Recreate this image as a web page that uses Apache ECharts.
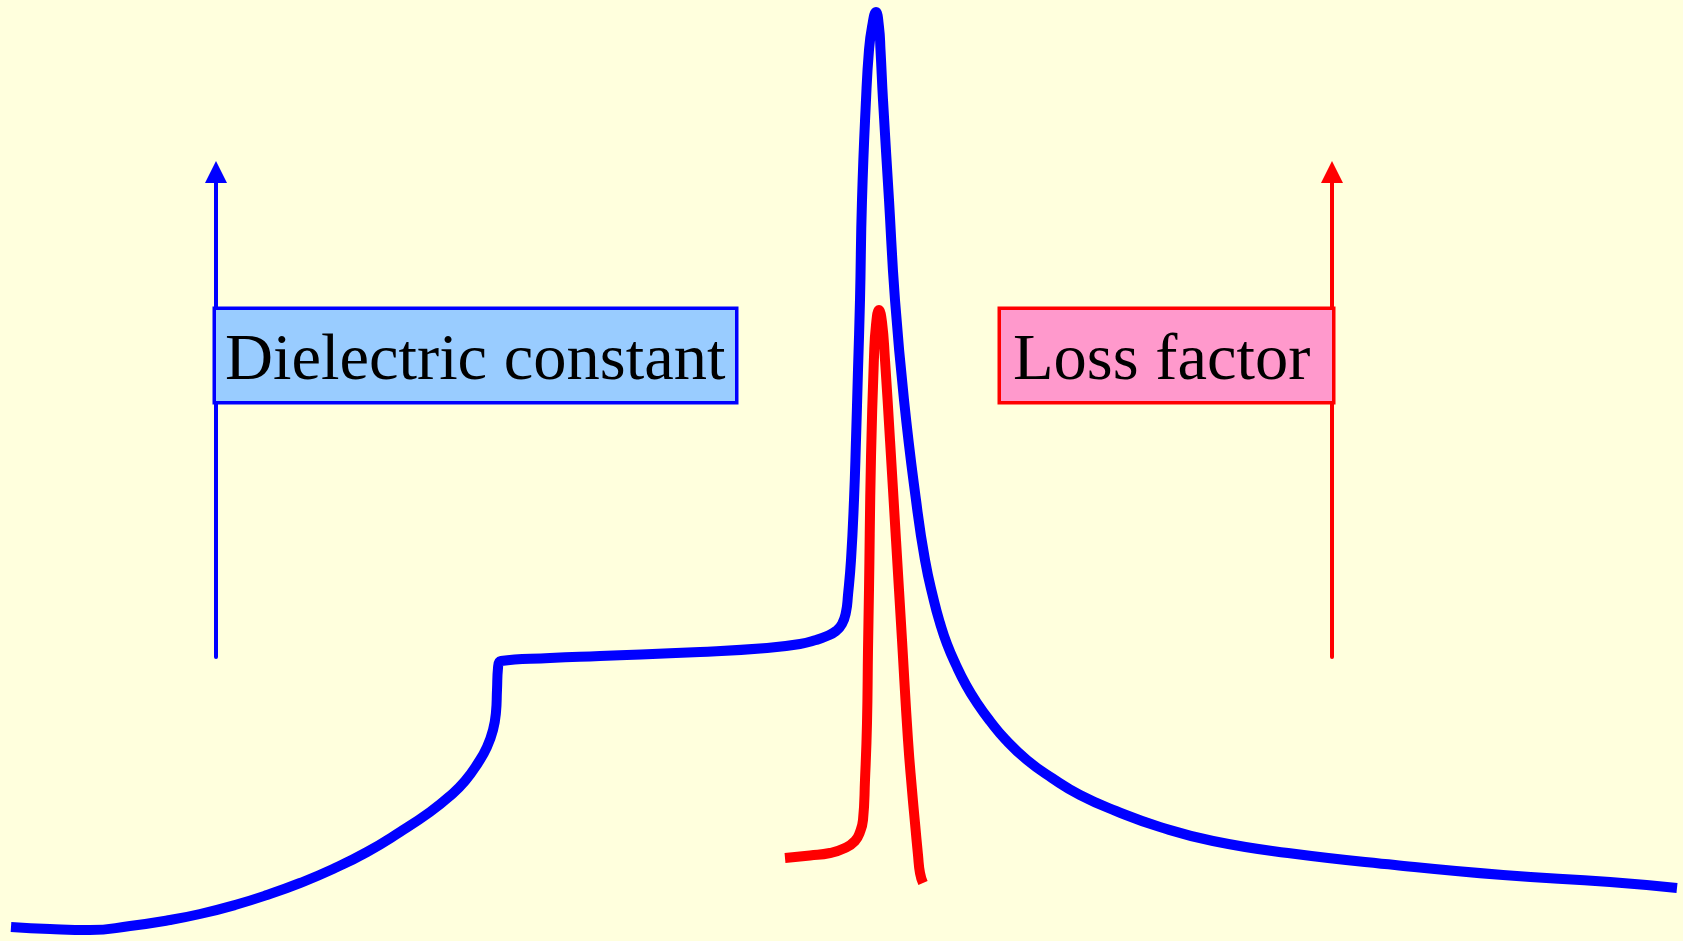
<!DOCTYPE html>
<html>
<head>
<meta charset="utf-8">
<title>Dielectric constant and loss factor</title>
<script src="https://cdn.jsdelivr.net/npm/echarts@6/dist/echarts.min.js"></script>
<style>
  html, body { margin: 0; padding: 0; background: #ffffdd; }
  #main { width: 1683px; height: 941px; }
</style>
</head>
<body>
<div id="main"></div>
<script>
// curves, arbitrary units (x: 0 - 168.3, y: 0 - 94.1)
var dielectricConstant = [
  [1.1, 1.4], [5.0, 1.2], [9.0, 1.1], [13.0, 1.5], [17.0, 2.1], [20.0, 2.7],
  [23.5, 3.6], [26.7, 4.6], [30.0, 5.8], [33.3, 7.2], [36.7, 8.9], [40.0, 10.9],
  [43.0, 12.9], [45.0, 14.5], [46.5, 16.0], [47.8, 17.8], [48.7, 19.4], [49.3, 21.1],
  [49.6, 22.9], [49.7, 25.1], [49.8, 27.3], [50.1, 28.0], [55.0, 28.3], [60.0, 28.5],
  [70.0, 28.9], [76.7, 29.3], [80.0, 29.7], [81.6, 30.1], [82.7, 30.5], [83.6, 31.0],
  [84.2, 31.7], [84.6, 32.9], [84.8, 34.6], [85.1, 38.1], [85.4, 44.1], [85.6, 50.1],
  [85.8, 57.1], [86.0, 64.1], [86.2, 74.1], [86.6, 84.1], [86.9, 89.1], [87.2, 91.4],
  [87.6, 92.9], [87.9, 91.4], [88.05, 89.1], [88.3, 84.1], [88.9, 74.1], [89.5, 64.1],
  [90.4, 54.1], [91.6, 44.1], [92.5, 38.1], [93.4, 34.0], [94.0, 31.8], [94.7, 29.7],
  [95.6, 27.6], [96.6, 25.6], [97.7, 23.8], [99.0, 22.0], [100.5, 20.2], [102.7, 18.1],
  [105.2, 16.3], [108.0, 14.6], [111.6, 13.0], [116.0, 11.4], [121.3, 10.0], [128.8, 8.8],
  [139.5, 7.6], [150.3, 6.6], [161.0, 5.9], [167.7, 5.3]
];
var lossFactor = [
  [78.5, 8.3], [81.0, 8.55], [83.0, 8.8], [84.5, 9.3], [85.5, 10.0], [86.0, 10.9],
  [86.3, 12.1], [86.5, 16.1], [86.7, 21.8], [86.8, 29.1], [86.9, 35.1], [87.1, 48.4],
  [87.4, 58.4], [87.6, 61.6], [87.9, 63.1], [88.2, 61.9], [88.5, 58.1], [89.0, 50.1],
  [89.6, 40.1], [90.2, 30.1], [90.8, 20.1], [91.2, 15.1], [91.5, 11.8], [91.8, 8.6],
  [92.0, 6.8], [92.3, 5.8]
];

// the two arrows: x of each arrow, bottom and top of the shaft, centre of the head
var arrowX = [21.6, 133.2];
var arrowBottom = 28.4;
var arrowTop = 76.5;
var arrowHead = 76.9;
// label boxes: left edge and vertical centre; text start and text middle
var boxX = [21.6, 100.1];
var boxY = 58.55;
var textX = [22.5, 101.3];
var textY = 57.9;
var labelNames = ['Dielectric constant', 'Loss factor'];

var blue = '#0000ff';
var red = '#ff0000';
var serif = '"Liberation Serif", "Times New Roman", serif';

var myChart = echarts.init(document.getElementById('main'));

function shaft(x, color) {
  return {
    type: 'line',
    data: [[x, arrowBottom], [x, arrowTop]],
    showSymbol: false,
    silent: true,
    lineStyle: { color: color, width: 4, cap: 'round' },
    z: 3
  };
}

function box(i, fill, border, width) {
  return {
    value: [boxX[i], boxY],
    label: {
      show: true,
      formatter: ' ',
      position: 'right',
      distance: 0,
      width: width,
      height: 91,
      padding: 0,
      backgroundColor: fill,
      borderColor: border,
      borderWidth: 3.5
    }
  };
}

function text(i) {
  return {
    value: [textX[i], textY],
    label: {
      show: true,
      formatter: labelNames[i],
      position: 'right',
      distance: 0,
      align: 'left',
      verticalAlign: 'middle',
      color: '#000000',
      fontFamily: serif,
      fontSize: 66.5
    }
  };
}

var option = {
  backgroundColor: '#ffffdd',
  animation: false,
  grid: { left: 0, right: 0, top: 0, bottom: 0 },
  xAxis: { type: 'value', min: 0, max: 168.3, show: false },
  yAxis: { type: 'value', min: 0, max: 94.1, show: false },
  series: [
    {
      name: 'Dielectric constant',
      type: 'line',
      data: dielectricConstant,
      smooth: 0.5,
      showSymbol: false,
      silent: true,
      lineStyle: { color: blue, width: 10, join: 'round' },
      z: 2
    },
    {
      name: 'Loss factor',
      type: 'line',
      data: lossFactor,
      smooth: 0.5,
      showSymbol: false,
      silent: true,
      lineStyle: { color: red, width: 10, join: 'round' },
      z: 2
    },
    shaft(arrowX[0], blue),
    shaft(arrowX[1], red),
    {
      // arrow heads
      type: 'scatter',
      symbol: 'triangle',
      symbolSize: [22, 22],
      silent: true,
      z: 3,
      itemStyle: { opacity: 1 },
      data: [
        { value: [arrowX[0], arrowHead], itemStyle: { color: blue, opacity: 1 } },
        { value: [arrowX[1], arrowHead], itemStyle: { color: red, opacity: 1 } }
      ]
    },
    {
      // label boxes hanging off the arrows
      type: 'scatter',
      symbolSize: 0,
      silent: true,
      z: 4,
      itemStyle: { opacity: 1 },
      data: [
        box(0, '#99ccff', blue, 519),
        box(1, '#ff99cc', red, 331)
      ]
    },
    {
      // label texts
      type: 'scatter',
      symbolSize: 0,
      silent: true,
      z: 5,
      itemStyle: { opacity: 1 },
      data: [text(0), text(1)]
    }
  ]
};

myChart.setOption(option);
window.onresize = function () {
  myChart.resize();
};
</script>
</body>
</html>
